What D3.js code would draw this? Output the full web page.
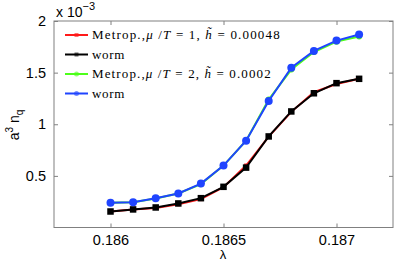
<!DOCTYPE html>
<html><head><meta charset="utf-8">
<script src="https://cdn.jsdelivr.net/npm/d3@7"></script>
<style>body{margin:0;background:#fff}svg{display:block}</style>
</head><body><div id="c"></div>
<script>
const lambda = [0.1860,0.1861,0.1862,0.1863,0.1864,0.1865,0.1866,0.1867,0.1868,0.1869,0.1870,0.1871];
const metrop1 = [0.155,0.175,0.190,0.225,0.275,0.390,0.600,0.880,1.120,1.310,1.390,1.440];
const worm1   = [0.155,0.175,0.194,0.233,0.284,0.394,0.580,0.882,1.124,1.300,1.398,1.440];
const metrop2 = [0.240,0.245,0.280,0.330,0.420,0.600,0.840,1.240,1.530,1.700,1.800,1.850];
const worm2   = [0.240,0.245,0.284,0.330,0.425,0.600,0.840,1.226,1.548,1.710,1.810,1.870];
const xTicks = [0.186,0.1865,0.187];
const xTickLabels = ["0.186","0.1865","0.187"];
const yTicks = [0.5,1,1.5,2];
const yTickLabels = ["0.5","1","1.5","2"];
const seriesNames = ["Metrop.,μ /T = 1, h̃ = 0.00048","worm","Metrop.,μ /T = 2, h̃ = 0.0002","worm"];

const W=415,H=265, L=54, R=393, T=21, B=227.5;
const svg=d3.select("#c").append("svg").attr("width",W).attr("height",H);
svg.append("rect").attr("width",W).attr("height",H).attr("fill","#fff");
const x=d3.scaleLinear().domain([0.18575,0.18725]).range([L,R]);
const y=d3.scaleLinear().domain([0,2]).range([B,T]);
const axisColor="#808080";
const font="'Liberation Sans', Arial, sans-serif";

// box
svg.append("rect").attr("x",L).attr("y",T).attr("width",R-L).attr("height",B-T)
  .attr("fill","none").attr("stroke",axisColor).attr("stroke-width",1);

// axes
const xb=svg.append("g").attr("transform",`translate(0,${B})`)
  .call(d3.axisBottom(x).tickValues(xTicks).tickFormat((d,i)=>xTickLabels[i]).tickSizeInner(-4).tickSizeOuter(0).tickPadding(7));
const xt=svg.append("g").attr("transform",`translate(0,${T})`)
  .call(d3.axisTop(x).tickValues(xTicks).tickFormat("").tickSizeInner(-4).tickSizeOuter(0));
const yl=svg.append("g").attr("transform",`translate(${L},0)`)
  .call(d3.axisLeft(y).tickValues(yTicks).tickFormat((d,i)=>yTickLabels[i]).tickSizeInner(-4).tickSizeOuter(0).tickPadding(8));
const yr=svg.append("g").attr("transform",`translate(${R},0)`)
  .call(d3.axisRight(y).tickValues(yTicks).tickFormat("").tickSizeInner(-4).tickSizeOuter(0));
[xb,xt,yl,yr].forEach(g=>{
  g.select(".domain").remove();
  g.selectAll("line").attr("stroke",axisColor);
  g.selectAll("text").attr("fill","#000").style("font-family",font).style("font-size","14.5px");
});

// exponent
const ex=svg.append("text").attr("x",56).attr("y",17).style("font-family",font).style("font-size","14px");
ex.append("tspan").text("x 10");
ex.append("tspan").attr("dy",-7).style("font-size","11px").text("−3");

// axis labels
svg.append("text").attr("x",223).attr("y",259).attr("text-anchor","middle")
  .style("font-family",font).style("font-size","13px").text("λ");
const ylab=svg.append("text").attr("transform","translate(19,125) rotate(-90)").attr("text-anchor","middle")
  .style("font-family",font).style("font-size","14px");
ylab.append("tspan").text("a");
ylab.append("tspan").attr("dy",-6).style("font-size","10px").text("3");
ylab.append("tspan").attr("dy",6).text(" n");
ylab.append("tspan").attr("dy",4).style("font-size","10px").text("q");

// series
const series=[
  {v:metrop1,c:"#ff1a1a",m:"sq",s:4},
  {v:worm1,c:"#000000",m:"sq",s:6.5},
  {v:metrop2,c:"#4dff1a",m:"ci",s:3},
  {v:worm2,c:"#1f44ff",m:"ci",s:4}
];
const line=d3.line().x((d,i)=>x(lambda[i])).y(d=>y(d));
series.forEach(s=>{
  svg.append("path").datum(s.v).attr("d",line).attr("fill","none").attr("stroke",s.c).attr("stroke-width",2);
  if(s.m==="sq"){
    svg.selectAll(null).data(s.v).enter().append("rect")
      .attr("x",(d,i)=>x(lambda[i])-s.s/2).attr("y",d=>y(d)-s.s/2)
      .attr("width",s.s).attr("height",s.s).attr("fill",s.c);
  } else {
    svg.selectAll(null).data(s.v).enter().append("circle")
      .attr("cx",(d,i)=>x(lambda[i])).attr("cy",d=>y(d)).attr("r",s.s).attr("fill",s.c);
  }
});

// legend
const lf="'Liberation Serif','Times New Roman',serif";
const legendWidths=[190,33,181,33];
series.forEach((s,i)=>{
  const ly=35+i*19.5;
  svg.append("line").attr("x1",65).attr("x2",88).attr("y1",ly).attr("y2",ly).attr("stroke",s.c).attr("stroke-width",2);
  if(s.m==="sq") svg.append("rect").attr("x",74.5).attr("y",ly-2).attr("width",4).attr("height",4).attr("fill",s.c).attr("opacity",0.6);
  else svg.append("circle").attr("cx",76.5).attr("cy",ly).attr("r",2.5).attr("fill",s.c).attr("opacity",0.6);
  const t=svg.append("text").attr("x",92).attr("y",ly+4).style("font-family",lf).style("font-size","13px");
  if(seriesNames[i]==="worm"){ t.text("worm"); }
  else {
    const parts=seriesNames[i].match(/^(Metrop\.,)(μ)( \/)(T)( = \d, )(h̃)( = [\d.]+)$/);
    t.append("tspan").text(parts[1]);
    t.append("tspan").style("font-style","italic").text(parts[2]);
    t.append("tspan").text(parts[3]);
    t.append("tspan").style("font-style","italic").text(parts[4]);
    t.append("tspan").text(parts[5]);
    t.append("tspan").style("font-style","italic").text(parts[6]);
    t.append("tspan").text(parts[7]);
  }
  const w=t.node().getComputedTextLength();
  const n=seriesNames[i].length;
  t.style("letter-spacing",((legendWidths[i]-w)/n)+"px");
});
</script></body></html>
